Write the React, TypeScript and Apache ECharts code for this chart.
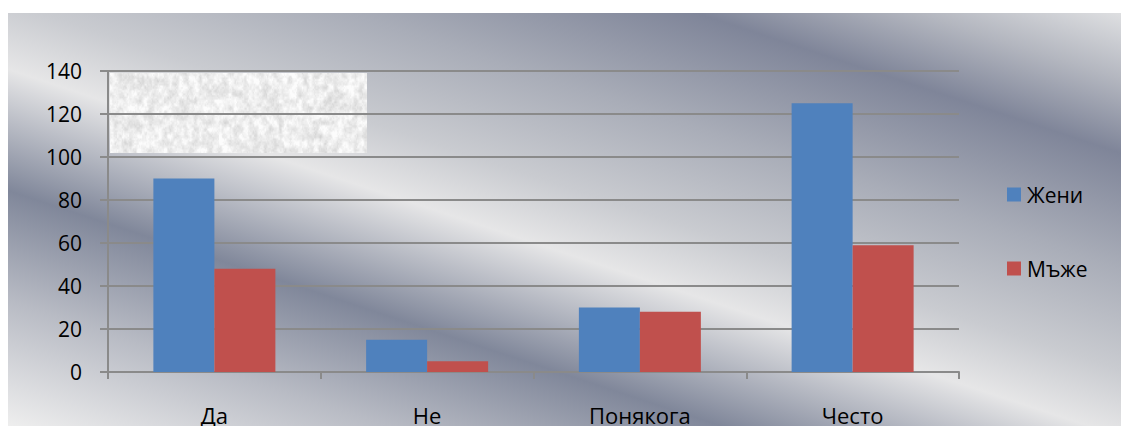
import React, { useEffect, useRef } from "react";
import * as echarts from "echarts";

// Survey answers by group
const categories = ["Да", "Не", "Понякога", "Често"];
const seriesNames = ["Жени", "Мъже"];
const womenValues = [90, 15, 30, 125];
const menValues = [48, 5, 28, 59];
const yTicks = { min: 0, max: 140, interval: 20 };

const seriesColors = ["#4f81bd", "#c0504d"];
const FONT = "'Open Sans', 'Noto Sans', sans-serif";

// Deterministic value-noise "granite" texture for the picture panel
function hash(x: number, y: number) {
  const s = Math.sin(x * 127.1 + y * 311.7) * 43758.5453;
  return s - Math.floor(s);
}
function vnoise(x: number, y: number) {
  const ix = Math.floor(x);
  const iy = Math.floor(y);
  const fx = x - ix;
  const fy = y - iy;
  const u = fx * fx * (3 - 2 * fx);
  const v = fy * fy * (3 - 2 * fy);
  const a = hash(ix, iy);
  const b = hash(ix + 1, iy);
  const c = hash(ix, iy + 1);
  const d = hash(ix + 1, iy + 1);
  return a + (b - a) * u + (c - a) * v + (a - b - c + d) * u * v;
}
function makeGraniteTexture(w: number, h: number): string {
  const canvas = document.createElement("canvas");
  canvas.width = w;
  canvas.height = h;
  const ctx = canvas.getContext("2d");
  if (!ctx) return "";
  const img = ctx.createImageData(w, h);
  for (let y = 0; y < h; y++) {
    for (let x = 0; x < w; x++) {
      const n =
        0.5 * vnoise(x / 5, y / 7) +
        0.3 * vnoise(x / 2.5, y / 3.5) +
        0.2 * vnoise(x / 1.2, y / 1.6);
      const g = Math.round(252 - Math.max(0, n - 0.25) * 60);
      const i = (y * w + x) * 4;
      img.data[i] = g;
      img.data[i + 1] = g;
      img.data[i + 2] = g;
      img.data[i + 3] = 255;
    }
  }
  ctx.putImageData(img, 0, 0);
  return canvas.toDataURL("image/png");
}

export default function App() {
  const ref = useRef<HTMLDivElement>(null);

  useEffect(() => {
    if (!ref.current) return;
    const chart = echarts.init(ref.current, null, { renderer: "svg" });
    const texture = makeGraniteTexture(257, 80);

    const axisGrey = "#8a8a8a";

    chart.setOption({
      animation: false,
      graphic: [
        {
          type: "rect",
          z: -100,
          silent: true,
          shape: { x: 0, y: 5, width: 1121, height: 413 },
          style: {
            fill: {
              type: "linear",
              global: true,
              x: 677,
              y: -142,
              x2: 444,
              y2: 564,
              colorStops: [
                { offset: 0, color: "#e0e1e3" },
                { offset: 0.09, color: "#b3b6bf" },
                { offset: 0.183, color: "#7f8599" },
                { offset: 0.33, color: "#a9adb8" },
                { offset: 0.46, color: "#c9cbd0" },
                { offset: 0.545, color: "#e6e6e7" },
                { offset: 0.7, color: "#80879a" },
                { offset: 0.84, color: "#b8bbc4" },
                { offset: 1, color: "#eeeeee" },
              ],
            },
          },
        },
        {
          type: "image",
          z: -50,
          silent: true,
          style: { image: texture, x: 102, y: 65, width: 257, height: 80 },
        },
      ],
      grid: { left: 100, top: 63, width: 851, height: 302, containLabel: false },
      legend: {
        orient: "vertical",
        left: 999,
        top: 176,
        padding: 0,
        itemWidth: 14,
        itemHeight: 14,
        itemGap: 53,
        icon: "rect",
        data: seriesNames,
        textStyle: { fontFamily: FONT, fontSize: 21, color: "#000", padding: [0, 0, 0, 1] },
      },
      xAxis: {
        type: "category",
        data: categories,
        axisLine: { show: true, lineStyle: { color: axisGrey, width: 2 } },
        axisTick: { show: true, length: 7, lineStyle: { color: axisGrey, width: 2 } },
        axisLabel: { fontFamily: FONT, fontSize: 22, color: "#000", margin: 32 },
      },
      yAxis: {
        type: "value",
        min: yTicks.min,
        max: yTicks.max,
        interval: yTicks.interval,
        axisLine: { show: true, lineStyle: { color: axisGrey, width: 2 } },
        axisTick: { show: true, length: 8, lineStyle: { color: axisGrey, width: 2 } },
        splitLine: { show: true, lineStyle: { color: axisGrey, width: 2 } },
        axisLabel: { fontFamily: FONT, fontSize: 21, color: "#000", margin: 26 },
      },
      series: [
        {
          name: seriesNames[0],
          type: "bar",
          data: womenValues,
          barWidth: 61,
          barGap: "0%",
          itemStyle: { color: seriesColors[0] },
        },
        {
          name: seriesNames[1],
          type: "bar",
          data: menValues,
          barWidth: 61,
          barGap: "0%",
          itemStyle: { color: seriesColors[1] },
        },
      ],
    });

    return () => chart.dispose();
  }, []);

  return <div ref={ref} style={{ width: 1121, height: 418 }} />;
}
